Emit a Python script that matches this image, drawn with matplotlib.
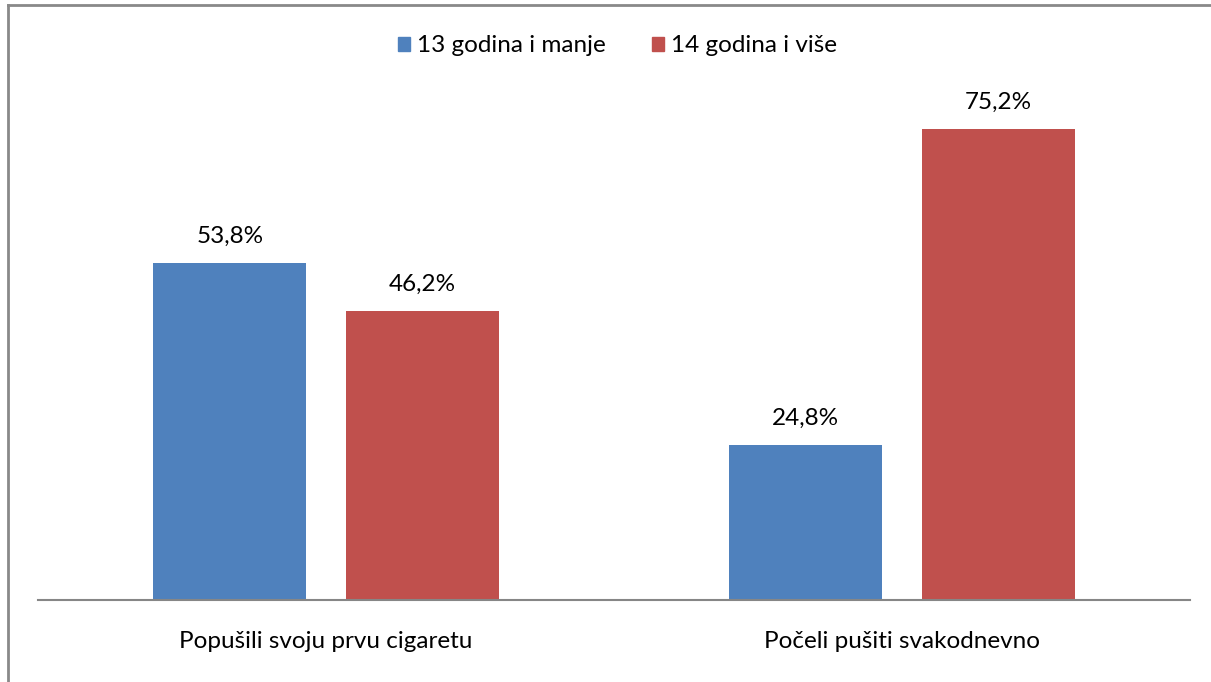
import numpy as np
import matplotlib.pyplot as plt
from matplotlib.patches import Patch
from matplotlib.lines import Line2D

categories = ["Popušili svoju prvu cigaretu", "Počeli pušiti svakodnevno"]
series_names = ["13 godina i manje", "14 godina i više"]
mlade = [53.8, 24.8]
starije = [46.2, 75.2]
colors = ["#4F81BD", "#C0504D"]

plt.rcParams['font.family'] = ['Lato', 'DejaVu Sans']

W, H = 1211, 682
fig = plt.figure(figsize=(W / 100, H / 100), dpi=100)
ax = fig.add_axes([38 / W, (H - 600) / H, (1190 - 38) / W, (600 - 99) / H])

x = np.arange(len(categories))
bw = 0.266
gap = 0.068
off = (bw + gap) / 2
for vals, col, sgn in [(mlade, colors[0], -1), (starije, colors[1], 1)]:
    bars = ax.bar(x + sgn * off, vals, width=bw, color=col)
    for b, v in zip(bars, vals):
        ax.annotate(f"{v:.1f}%".replace(".", ","),
                    (b.get_x() + b.get_width() / 2, v),
                    xytext=(0, 19), textcoords="offset points",
                    ha="center", va="center", fontsize=17.5, color="black")

ax.set_xlim(-0.5, 1.5)
ax.set_ylim(0, 80)
ax.set_yticks([])
ax.set_xticks(x)
ax.set_xticklabels(categories, fontsize=17.5)
ax.tick_params(axis="x", length=0, pad=22)
for s in ["top", "right", "left"]:
    ax.spines[s].set_visible(False)
ax.spines["bottom"].set_color("#868686")
ax.spines["bottom"].set_linewidth(1.5)

handles = [Patch(color=c) for c in colors]
fig.legend(handles, series_names, loc="center",
           bbox_to_anchor=(0.5 + 12 / W, 1 - 46 / H),
           ncol=2, frameon=False, fontsize=17.5, handlelength=0.5, handleheight=0.5,
           handletextpad=0.3, columnspacing=1.9)

# outer chart border (left and top visible)
fig.add_artist(Line2D([8 / W, 8 / W], [0, 1 - 5 / H], transform=fig.transFigure,
                      color="#898989", lw=2))
fig.add_artist(Line2D([8 / W, 1], [1 - 5 / H, 1 - 5 / H], transform=fig.transFigure,
                      color="#898989", lw=2))

fig.savefig("out.png", dpi=100)
